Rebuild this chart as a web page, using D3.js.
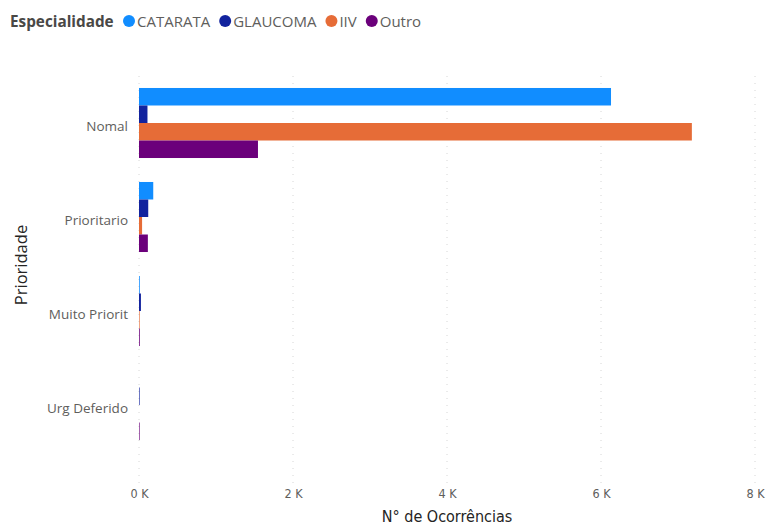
<!DOCTYPE html>
<html><head><meta charset="utf-8">
<script src="https://cdn.jsdelivr.net/npm/d3@7"></script>
<style>body{margin:0;background:#fff;} svg{display:block;}</style>
</head><body>
<svg id="chart" width="767" height="527"></svg>
<script>
const categories = ["Nomal", "Prioritario", "Muito Priorit", "Urg Deferido"];
const seriesNames = ["CATARATA", "GLAUCOMA", "IIV", "Outro"];
const seriesColors = ["#118DFF", "#12239E", "#E66C37", "#6B007B"];
const catarata = [6130, 185, 10, 0];
const glaucoma = [110, 120, 25, 8];
const iiv = [7180, 40, 8, 0];
const outro = [1545, 115, 10, 8];
const xTicks = [0, 2000, 4000, 6000, 8000];
const xTickLabels = ["0 K", "2 K", "4 K", "6 K", "8 K"];

const seriesValues = [catarata, glaucoma, iiv, outro];
const rows = [];
categories.forEach((c, ci) => seriesNames.forEach((s, si) => rows.push({cat: c, ser: s, v: seriesValues[si][ci], color: seriesColors[si]})));

const svg = d3.select("#chart");
const x = d3.scaleLinear().domain([0, 8000]).range([139, 755]);
const y = d3.scaleBand().domain(categories).range([76, 452]).paddingInner(0.255).paddingOuter(0.1275);
const y1 = d3.scaleBand().domain(seriesNames).range([0, y.bandwidth()]);

// gridlines
svg.append("g").selectAll("line").data(xTicks).join("line")
  .attr("x1", d => x(d)).attr("x2", d => x(d))
  .attr("y1", 76).attr("y2", 483)
  .attr("stroke", "#d6d6d6").attr("stroke-width", 1).attr("stroke-dasharray", "1,6");

// bars
svg.append("g").selectAll("rect").data(rows).join("rect")
  .attr("x", x(0))
  .attr("y", d => y(d.cat) + y1(d.ser))
  .attr("width", d => Math.max(0, x(d.v) - x(0)))
  .attr("height", y1.bandwidth())
  .attr("fill", d => d.color);

// x axis
const xAxis = d3.axisBottom(x).tickValues(xTicks).tickFormat((d, i) => xTickLabels[i]).tickSize(0);
const gx = svg.append("g").attr("transform", "translate(0,486)").call(xAxis);
gx.select(".domain").remove();
gx.selectAll("text").attr("fill", "#605E5C").style("font-family", "'DejaVu Sans Condensed', 'Roboto', sans-serif").style("font-size", "12.5px").attr("dy", "0.71em");

// y axis
const yAxis = d3.axisLeft(y).tickSize(0).tickPadding(11);
const gy = svg.append("g").attr("transform", `translate(${x(0)},0)`).call(yAxis);
gy.select(".domain").remove();
gy.selectAll("text").attr("fill", "#605E5C").attr("dy", "0.62em").style("font-family", "'Open Sans', 'Noto Sans', sans-serif").style("font-size", "13.5px");

// axis titles
svg.append("text").attr("x", 447).attr("y", 522).attr("text-anchor", "middle")
  .attr("fill", "#252423").style("font-family", "'DejaVu Sans Condensed', 'Roboto', sans-serif").style("font-size", "16px")
  .text("N° de Ocorrências");
svg.append("text").attr("transform", "translate(27,265) rotate(-90)").attr("text-anchor", "middle")
  .attr("fill", "#252423").style("font-family", "'Open Sans', 'Noto Sans', sans-serif").style("font-size", "16.5px")
  .text("Prioridade");

// legend
const lg = svg.append("g").style("font-family", "'Open Sans', 'Noto Sans', sans-serif");
lg.append("text").attr("x", 10).attr("y", 27).attr("fill", "#494846").style("font-weight", "bold").style("font-size", "15.3px").text("Especialidade");
let cx = 129;
seriesNames.forEach((s, i) => {
  lg.append("circle").attr("cx", cx).attr("cy", 21).attr("r", 6).attr("fill", seriesColors[i]);
  const t = lg.append("text").attr("x", cx + 8).attr("y", 27).attr("fill", "#605E5C").style("font-size", "15px").text(s);
  const w = t.node().getComputedTextLength();
  cx = cx + 8 + w + 15;
});
</script>
</body></html>
